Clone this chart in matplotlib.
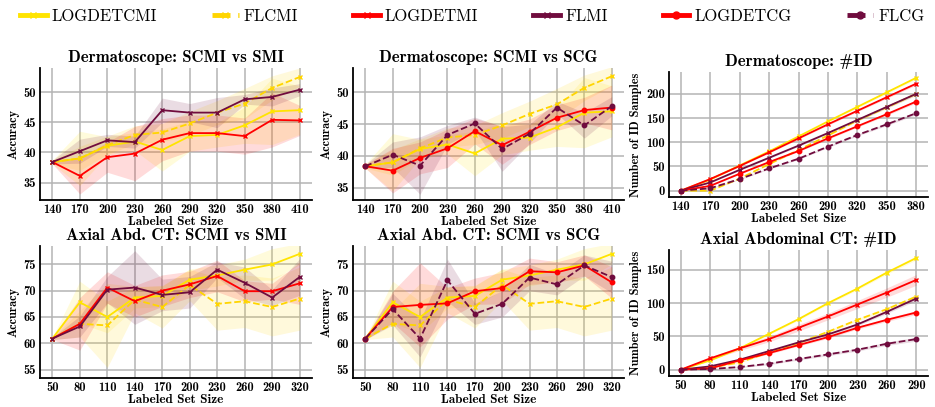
import numpy as np
import matplotlib
matplotlib.use("Agg")
import matplotlib.pyplot as plt
from matplotlib.lines import Line2D

# x axes
derm_x = [140, 170, 200, 230, 260, 290, 320, 350, 380, 410]
derm_id_x = [140, 170, 200, 230, 260, 290, 320, 350, 380]
ct_x = [50, 80, 110, 140, 170, 200, 230, 260, 290, 320]
ct_id_x = [50, 80, 110, 140, 170, 200, 230, 260, 290]

# Dermatoscope accuracy
derm_logdetcmi = [38.4, 39.0, 41.1, 41.8, 40.4, 42.7, 42.9, 44.5, 46.8, 47.0]
derm_flcmi = [38.4, 39.0, 41.2, 42.9, 43.3, 44.8, 46.6, 48.1, 50.7, 52.5]
derm_logdetmi = [38.4, 36.1, 39.2, 39.8, 42.1, 43.2, 43.2, 42.7, 45.4, 45.3]
derm_flmi = [38.4, 40.2, 42.0, 41.7, 47.0, 46.6, 46.6, 48.8, 49.2, 50.4]
derm_logdetcg = [38.4, 37.7, 39.7, 41.2, 43.9, 41.7, 43.8, 46.0, 47.2, 47.6]
derm_flcg = [38.4, 40.2, 38.5, 43.3, 45.1, 41.1, 43.5, 47.6, 44.8, 47.8]

derm_logdetcmi_sd = [0.3, 4.5, 1.5, 1.5, 3.5, 2.5, 2.0, 3.0, 5.5, 4.0]
derm_flcmi_sd = [0.3, 2.0, 1.5, 1.5, 1.5, 2.0, 2.0, 2.5, 2.0, 1.5]
derm_logdetmi_sd = [0.3, 3.0, 2.5, 4.5, 3.5, 3.0, 3.0, 3.0, 4.5, 2.5]
derm_flmi_sd = [0.3, 2.0, 1.0, 1.0, 2.0, 1.5, 2.5, 0.8, 1.5, 1.0]
derm_logdetcg_sd = [0.3, 3.5, 2.5, 3.0, 2.0, 3.0, 2.0, 2.0, 2.0, 3.5]
derm_flcg_sd = [0.3, 2.0, 4.5, 1.5, 1.0, 3.5, 1.5, 1.0, 2.0, 1.5]

# Dermatoscope #ID samples
derm_id_logdetcmi = [0, 23, 52, 81, 112, 143, 173, 203, 233]
derm_id_flcmi = [0, 0, 25, 55, 84, 114, 145, 172, 200]
derm_id_logdetmi = [0, 24, 51, 79, 108, 137, 165, 193, 221]
derm_id_flmi = [0, 17, 43, 68, 93, 119, 146, 173, 200]
derm_id_logdetcg = [0, 10, 35, 59, 82, 108, 133, 158, 184]
derm_id_flcg = [0, 5, 24, 46, 66, 91, 115, 137, 160]

# Axial Abdominal CT accuracy
ct_logdetcmi = [60.9, 67.8, 65.0, 68.7, 69.0, 72.1, 72.9, 74.0, 75.0, 77.0]
ct_flcmi = [60.9, 63.7, 63.4, 68.3, 66.9, 71.1, 67.5, 68.0, 66.9, 68.5]
ct_logdetmi = [60.9, 63.7, 70.6, 68.0, 70.0, 71.2, 72.8, 69.9, 69.9, 71.4]
ct_flmi = [60.9, 63.2, 70.2, 70.6, 69.2, 69.7, 74.0, 71.5, 68.7, 72.6]
ct_logdetcg = [60.9, 66.9, 67.3, 67.6, 69.9, 70.5, 73.7, 73.5, 74.8, 71.6]
ct_flcg = [60.9, 66.5, 60.9, 72.0, 65.6, 67.5, 72.5, 71.2, 74.8, 72.6]

ct_logdetcmi_sd = [0.2, 4.0, 3.0, 2.0, 2.0, 2.0, 2.0, 2.0, 3.0, 2.0]
ct_flcmi_sd = [0.2, 2.5, 8.0, 2.5, 4.0, 3.0, 5.0, 5.0, 5.5, 6.0]
ct_logdetmi_sd = [0.2, 5.0, 3.0, 3.0, 3.0, 2.5, 3.0, 2.0, 1.5, 4.0]
ct_flmi_sd = [0.2, 2.0, 2.5, 7.0, 3.0, 3.0, 1.5, 3.0, 1.5, 3.5]
ct_logdetcg_sd = [0.2, 3.0, 8.0, 3.0, 2.5, 3.0, 2.5, 2.0, 2.0, 3.0]
ct_flcg_sd = [0.2, 3.0, 3.5, 4.0, 2.0, 2.5, 2.5, 2.0, 2.0, 3.0]

# Axial Abdominal CT #ID samples
ct_id_logdetcmi = [0, 14, 32, 54, 76, 100, 122, 146, 168]
ct_id_flcmi = [0, 3, 11, 26, 40, 57, 75, 91, 110]
ct_id_logdetmi = [0, 17, 32, 46, 63, 80, 98, 116, 135]
ct_id_flmi = [0, 5, 15, 28, 41, 53, 68, 87, 107]
ct_id_logdetcg = [0, 2, 14, 25, 37, 49, 63, 75, 86]
ct_id_flcg = [0, 1, 4, 9, 16, 23, 30, 39, 46]

id_sd_small = [0, 1, 1, 1.5, 1.5, 2, 2, 2.5, 3]
ct_id_logdetmi_sd = [0, 2, 3, 4, 5, 5, 6, 7, 8]

YELLOW = "#ffe400"
GOLD = "#ffd500"
RED = "#ff0000"
MAROON = "#700c3e"

styles = {
    "LOGDETCMI": dict(color=YELLOW, ls="-", marker="x"),
    "FLCMI": dict(color=GOLD, ls="--", marker="x"),
    "LOGDETMI": dict(color=RED, ls="-", marker="x"),
    "FLMI": dict(color=MAROON, ls="-", marker="x"),
    "LOGDETCG": dict(color=RED, ls="-", marker="o"),
    "FLCG": dict(color=MAROON, ls="--", marker="o"),
}

plt.rcParams["font.family"] = "cmb10"
plt.rcParams["axes.unicode_minus"] = False

W, H = 935, 407
fig = plt.figure(figsize=(W / 100, H / 100), dpi=100)


def px_axes(l, t, r, b):
    return fig.add_axes([l / W, 1 - b / H, (r - l) / W, (b - t) / H])


def draw(ax, name, x, y, sd):
    st = styles[name]
    y = np.array(y, dtype=float)
    sd = np.array(sd, dtype=float)
    ax.fill_between(x, y - sd, y + sd, color=st["color"], alpha=0.14, lw=0)
    ms = 3.2 if st["marker"] == "o" else 3.5
    ax.plot(x, y, color=st["color"], ls=st["ls"], marker=st["marker"],
            ms=ms, mew=1.0, lw=1.3)


def style(ax, title, ylabel, x, ylim, yticks):
    ax.set_title(title, fontsize=12, pad=4)
    ax.set_xlabel("Labeled Set Size", fontsize=9.5, labelpad=0)
    ax.set_ylabel(ylabel, fontsize=8.8, labelpad=3)
    ax.set_xticks(x)
    ax.set_yticks(yticks)
    ax.set_ylim(*ylim)
    ax.margins(x=0.05)
    ax.tick_params(labelsize=9, length=0, pad=3)
    ax.grid(True, color="#b4b4b4", lw=1.1)
    ax.set_axisbelow(True)
    for s in ["top", "right"]:
        ax.spines[s].set_visible(False)
    for s in ["left", "bottom"]:
        ax.spines[s].set_linewidth(1.3)
        ax.spines[s].set_color("black")


# Dermatoscope SCMI vs SMI
ax = px_axes(40, 68, 312, 200)
draw(ax, "LOGDETCMI", derm_x, derm_logdetcmi, derm_logdetcmi_sd)
draw(ax, "FLCMI", derm_x, derm_flcmi, derm_flcmi_sd)
draw(ax, "LOGDETMI", derm_x, derm_logdetmi, derm_logdetmi_sd)
draw(ax, "FLMI", derm_x, derm_flmi, derm_flmi_sd)
style(ax, "Dermatoscope: SCMI vs SMI", "Accuracy", derm_x, (32.1, 54), [35, 40, 45, 50])

# Dermatoscope SCMI vs SCG
ax = px_axes(353, 68, 624, 200)
draw(ax, "LOGDETCMI", derm_x, derm_logdetcmi, derm_logdetcmi_sd)
draw(ax, "FLCMI", derm_x, derm_flcmi, derm_flcmi_sd)
draw(ax, "LOGDETCG", derm_x, derm_logdetcg, derm_logdetcg_sd)
draw(ax, "FLCG", derm_x, derm_flcg, derm_flcg_sd)
style(ax, "Dermatoscope: SCMI vs SCG", "Accuracy", derm_x, (33.1, 53.8), [35, 40, 45, 50])

# Dermatoscope #ID
ax = px_axes(669, 72, 928, 197)
draw(ax, "LOGDETCMI", derm_id_x, derm_id_logdetcmi, id_sd_small)
draw(ax, "FLCMI", derm_id_x, derm_id_flcmi, id_sd_small)
draw(ax, "LOGDETMI", derm_id_x, derm_id_logdetmi, id_sd_small)
draw(ax, "FLMI", derm_id_x, derm_id_flmi, id_sd_small)
draw(ax, "LOGDETCG", derm_id_x, derm_id_logdetcg, id_sd_small)
draw(ax, "FLCG", derm_id_x, derm_id_flcg, id_sd_small)
style(ax, "Dermatoscope: #ID", "Number of ID Samples", derm_id_x, (-13, 245), [0, 50, 100, 150, 200])

# Axial Abd. CT SCMI vs SMI
ax = px_axes(40, 246, 312, 378)
draw(ax, "LOGDETCMI", ct_x, ct_logdetcmi, ct_logdetcmi_sd)
draw(ax, "FLCMI", ct_x, ct_flcmi, ct_flcmi_sd)
draw(ax, "LOGDETMI", ct_x, ct_logdetmi, ct_logdetmi_sd)
draw(ax, "FLMI", ct_x, ct_flmi, ct_flmi_sd)
style(ax, "Axial Abd. CT: SCMI vs SMI", "Accuracy", ct_x, (53.4, 78.5), [55, 60, 65, 70, 75])

# Axial Abd. CT SCMI vs SCG
ax = px_axes(353, 246, 624, 378)
draw(ax, "LOGDETCMI", ct_x, ct_logdetcmi, ct_logdetcmi_sd)
draw(ax, "FLCMI", ct_x, ct_flcmi, ct_flcmi_sd)
draw(ax, "LOGDETCG", ct_x, ct_logdetcg, ct_logdetcg_sd)
draw(ax, "FLCG", ct_x, ct_flcg, ct_flcg_sd)
style(ax, "Axial Abd. CT: SCMI vs SCG", "Accuracy", ct_x, (53.4, 78.5), [55, 60, 65, 70, 75])

# Axial Abdominal CT #ID
ax = px_axes(669, 250, 928, 376)
draw(ax, "LOGDETCMI", ct_id_x, ct_id_logdetcmi, id_sd_small)
draw(ax, "FLCMI", ct_id_x, ct_id_flcmi, id_sd_small)
draw(ax, "LOGDETMI", ct_id_x, ct_id_logdetmi, ct_id_logdetmi_sd)
draw(ax, "FLMI", ct_id_x, ct_id_flmi, id_sd_small)
draw(ax, "LOGDETCG", ct_id_x, ct_id_logdetcg, id_sd_small)
draw(ax, "FLCG", ct_id_x, ct_id_flcg, id_sd_small)
style(ax, "Axial Abdominal CT: #ID", "Number of ID Samples", ct_id_x, (-9.5, 180), [0, 50, 100, 150])

handles = [Line2D([], [], color=st["color"], ls=st["ls"], marker=st["marker"],
                  lw=3.5, ms=5) for st in styles.values()]
fig.legend(handles, list(styles.keys()), loc="upper center", ncol=6,
           bbox_to_anchor=(0.505, 1.015), frameon=False,
           prop={"family": "cmr10", "size": 12},
           handlelength=1.6, handletextpad=0.3, columnspacing=3.3)

fig.savefig("out.png", dpi=100)
